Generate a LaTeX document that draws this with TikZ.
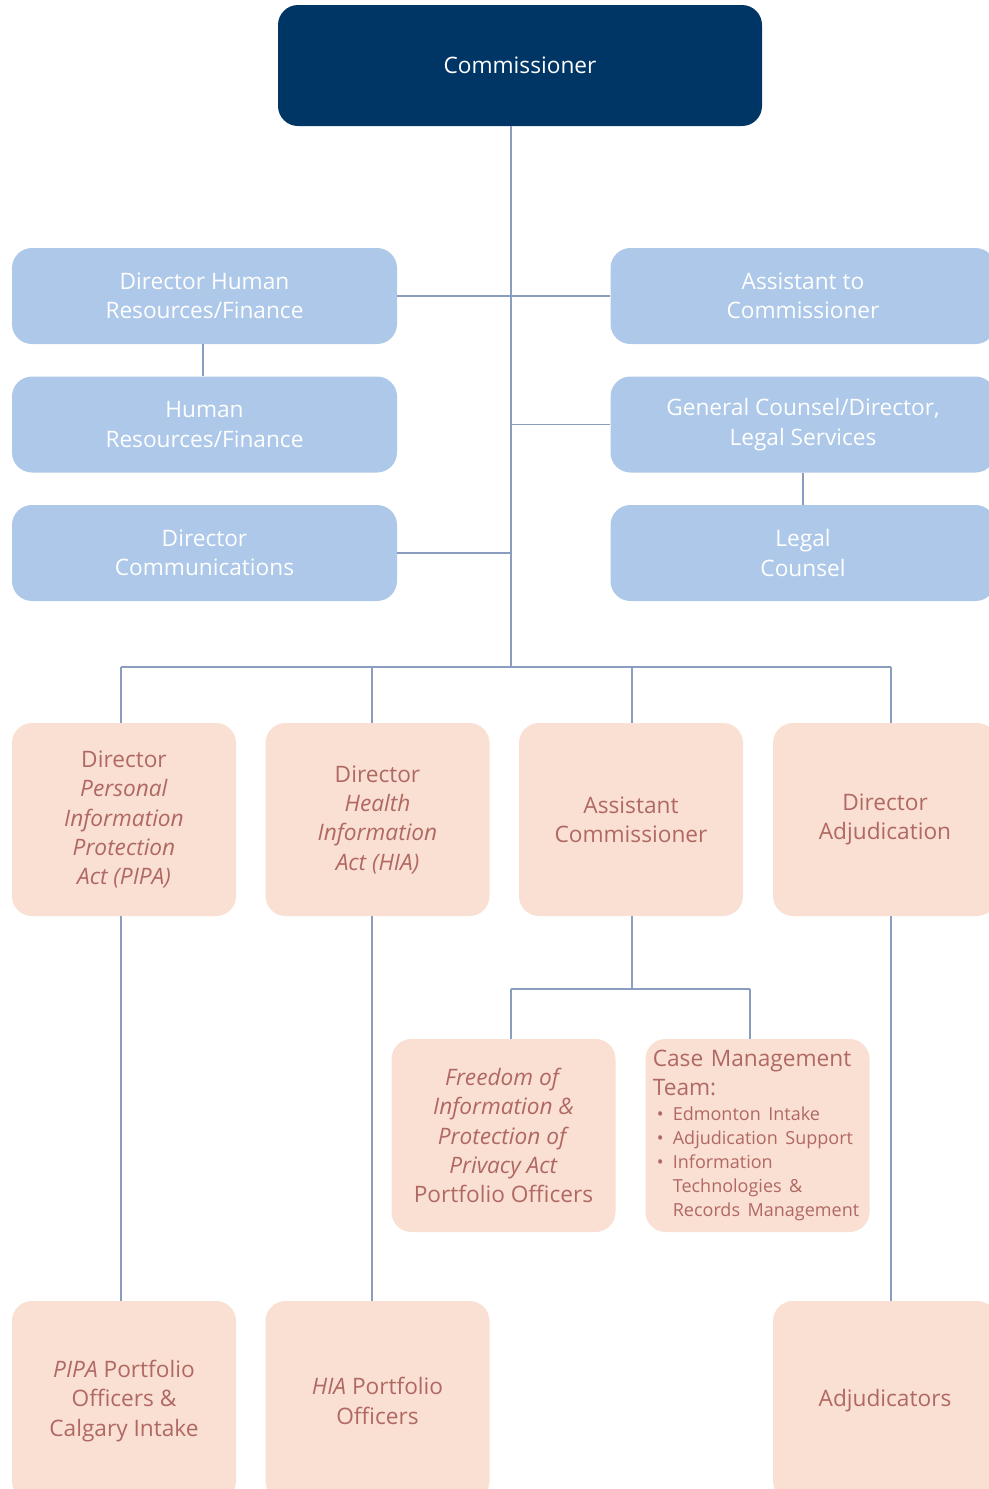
\documentclass[tikz,border=0pt]{standalone}
\usepackage{fontspec}
\setmainfont{Open Sans}
\usetikzlibrary{positioning}

\definecolor{darkblue}{RGB}{0,54,101}
\definecolor{lightblue}{RGB}{173,200,232}
\definecolor{linkblue}{RGB}{138,157,191}
\definecolor{lightpink}{RGB}{250,223,211}
\definecolor{pinktext}{RGB}{176,105,98}

\tikzset{
	base box/.style = {rounded corners = 15pt, inner sep = 2pt, align = center,
		font = \fontsize{17}{22}\selectfont},
	top box/.style = {base box, fill = darkblue, text = white,
		minimum width = 363pt, minimum height = 90.75pt},
	blue box/.style = {base box, fill = lightblue, text = white,
		minimum width = 288.75pt, minimum height = 72pt},
	pink box/.style = {base box, fill = lightpink, text = pinktext,
		minimum width = 168pt, minimum height = 144.75pt},
	low box/.style = {pink box, minimum height = 150pt},
	link/.style = {draw = linkblue, line width = 0.9pt}
}

\begin{document}
\begin{tikzpicture}[x = 0.75pt, y = -0.75pt]

	\useasboundingbox (0, 0) rectangle (989, 1489);
	\clip (0, 0) rectangle (989, 1489);

	% Commissioner

	\node [top box] (comm) at (520, 65.5) {Commissioner};

	% Blue boxes

	\node [blue box] (dhr) at (204.5, 296) {Director Human\\Resources/Finance};
	\node [blue box] (hr) at (204.5, 424.5) {Human\\Resources/Finance};
	\node [blue box] (dcom) at (204.5, 553) {Director\\Communications};
	\node [blue box] (asst) at (803, 296) {Assistant to\\Commissioner};
	\node [blue box] (gc) at (803, 424.5) {General Counsel/Director,\\Legal Services};
	\node [blue box] (legal) at (803, 553) {Legal\\Counsel};

	% Pink boxes

	\node [pink box] (pipa) at (124, 819.5) {Director\\\textit{Personal}\\\textit{Information}\\\textit{Protection}\\\textit{Act (PIPA)}};
	\node [pink box] (hia) at (377.5, 819.5) {Director\\\textit{Health}\\\textit{Information}\\\textit{Act (HIA)}};
	\node [pink box] (ac) at (631, 819.5) {Assistant\\Commissioner};
	\node [pink box] (adj) at (885, 819.5) {Director\\Adjudication};

	\node [pink box] (foip) at (503.5, 1135.5) {\textit{Freedom of}\\\textit{Information \&}\\\textit{Protection of}\\\textit{Privacy Act}\\Portfolio Officers};
	\node [pink box, align = left, text width = 157pt] (cmt) at (757.5, 1135.5)
		{Case Management\\Team:\\[0.5pt]
		{\fontsize{13.5}{18}\selectfont
		\hspace*{3pt}\makebox[12pt][l]{\textbullet}Edmonton Intake\\
		\hspace*{3pt}\makebox[12pt][l]{\textbullet}Adjudication Support\\
		\hspace*{3pt}\makebox[12pt][l]{\textbullet}Information\\
		\hspace*{15pt}Technologies \&\\
		\hspace*{15pt}Records Management\par}};

	\node [low box] (pipapo) at (124, 1401) {\textit{PIPA} Portfolio\\Officers \&\\Calgary Intake};
	\node [low box] (hiapo) at (377.5, 1401) {\textit{HIA} Portfolio\\Officers};
	\node [low box] (adjs) at (885, 1401) {Adjudicators};

	% Junctions

	\coordinate (trunk) at (511, 667);
	\coordinate (bus1) at (121, 667);
	\coordinate (bus2) at (372, 667);
	\coordinate (bus3) at (632, 667);
	\coordinate (bus4) at (891, 667);
	\coordinate (split) at (632, 989);
	\coordinate (splitl) at (511, 989);
	\coordinate (splitr) at (750, 989);

	% Connectors

	\draw [link] (trunk |- comm.south) -- (trunk);
	\draw [link] (dhr.east) -- (asst.west);
	\draw [link] (trunk |- gc.west) -- (gc.west);
	\draw [link] (dcom.east) -- (trunk |- dcom.east);
	\draw [link] (dhr.south -| 203, 0) -- (hr.north -| 203, 0);
	\draw [link] (gc.south) -- (legal.north);

	\draw [link] (bus1) -- (bus4);
	\draw [link] (bus1) -- (bus1 |- pipa.north);
	\draw [link] (bus2) -- (bus2 |- hia.north);
	\draw [link] (bus3) -- (bus3 |- ac.north);
	\draw [link] (bus4) -- (bus4 |- adj.north);

	\draw [link] (split |- ac.south) -- (split);
	\draw [link] (splitl) -- (splitr);
	\draw [link] (splitl) -- (splitl |- foip.north);
	\draw [link] (splitr) -- (splitr |- cmt.north);

	\draw [link] (bus1 |- pipa.south) -- (bus1 |- pipapo.north);
	\draw [link] (bus2 |- hia.south) -- (bus2 |- hiapo.north);
	\draw [link] (bus4 |- adj.south) -- (bus4 |- adjs.north);

\end{tikzpicture}
\end{document}
